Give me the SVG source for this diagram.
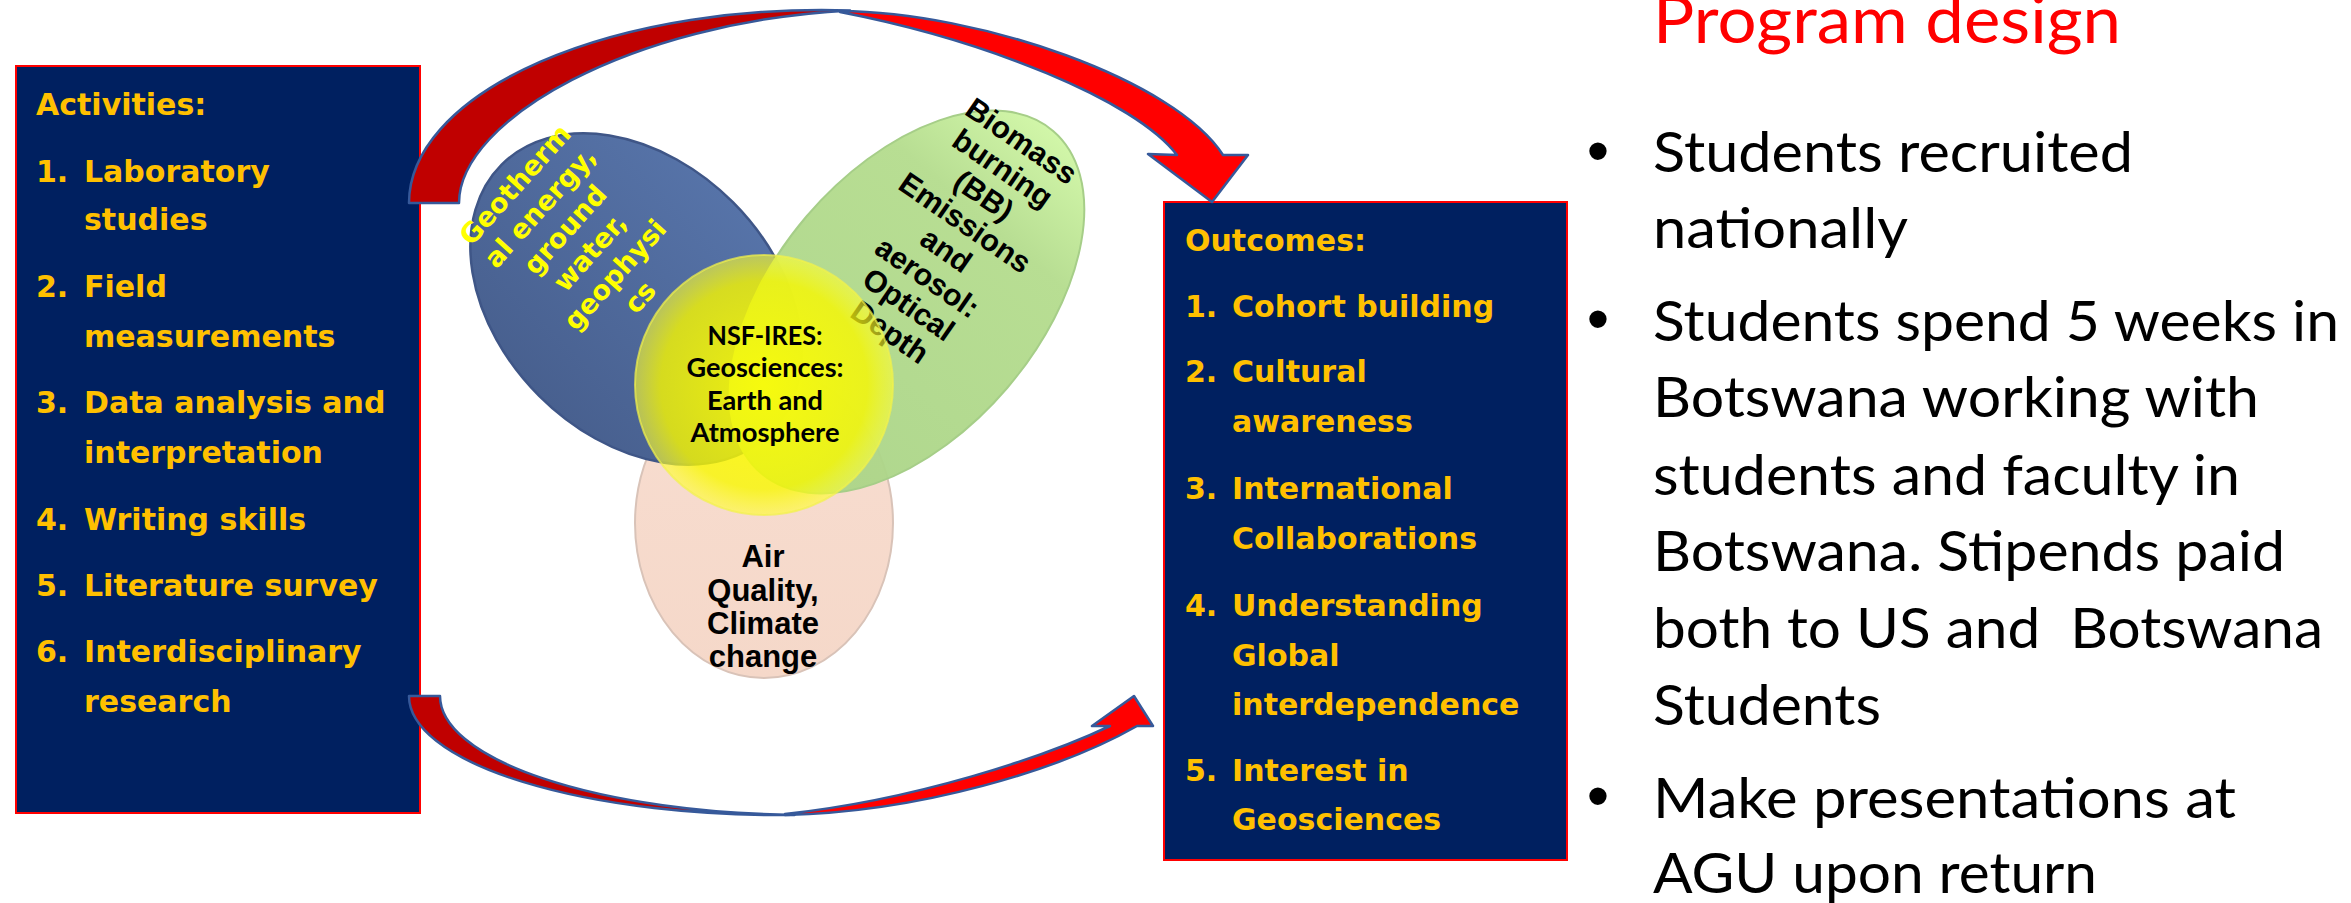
<svg xmlns="http://www.w3.org/2000/svg" width="2351" height="903" viewBox="0 0 2351 903">
  <defs>
    <style>
      .box{fill:#002060;stroke:#FF0000;stroke-width:2}
      .bt{font-family:"DejaVu Sans",Verdana,sans-serif;font-weight:bold;font-size:30px;fill:#FFC000}
      .arr-back{fill:#C00000;stroke:#36599A;stroke-width:2.5;stroke-linejoin:round}
      .arr-front{fill:#FF0000;stroke:#36599A;stroke-width:2.5;stroke-linejoin:round}
      .geo{font-family:"DejaVu Sans",Verdana,sans-serif;font-weight:bold;font-size:27px;fill:#FFFF00;text-anchor:middle}
      .bb{font-family:"Liberation Sans",Arial,sans-serif;font-weight:bold;font-size:30.5px;fill:#000;text-anchor:middle}
      .air{font-family:"Liberation Sans",Arial,sans-serif;font-weight:bold;font-size:31px;fill:#000;text-anchor:middle}
      .nsf{font-family:Lato,"Liberation Sans",sans-serif;font-weight:bold;font-size:27px;fill:#000;text-anchor:middle}
      .title{font-family:Lato,"Liberation Sans",sans-serif;font-size:65px;fill:#FF0000}
      .rt{font-family:Lato,"Liberation Sans",sans-serif;font-size:57px;fill:#000}
      .bul{font-family:"Liberation Sans",Arial,sans-serif;font-size:64px;fill:#000;text-anchor:middle}
    </style>
    <linearGradient id="blueFill" x1="0" y1="0" x2="0" y2="1">
      <stop offset="0" stop-color="#5673A8"/>
      <stop offset="1" stop-color="#48608F"/>
    </linearGradient>
    <linearGradient id="greenFill" x1="0" y1="0" x2="1" y2="0">
      <stop offset="0" stop-color="#AAD487"/>
      <stop offset="0.75" stop-color="#B4DC8D"/>
      <stop offset="1" stop-color="#CFF6A4"/>
    </linearGradient>
    <linearGradient id="peachFill" x1="0" y1="0" x2="0" y2="1">
      <stop offset="0" stop-color="#F8DDD0"/>
      <stop offset="1" stop-color="#F5D8C9"/>
    </linearGradient>
    <radialGradient id="yellowFill" cx="0.5" cy="0.5" r="0.5">
      <stop offset="0" stop-color="#FFFF00" stop-opacity="0.9"/>
      <stop offset="0.8" stop-color="#F8F800" stop-opacity="0.8"/>
      <stop offset="1" stop-color="#FFFF30" stop-opacity="0.6"/>
    </radialGradient>
  </defs>

  <rect width="2351" height="903" fill="#FFFFFF"/>

  <!-- Activities box -->
  <g id="activities">
    <rect class="box" x="16" y="66" width="404" height="747"/>
    <text class="bt" x="36" y="115">Activities:</text>
    <text class="bt" x="36" y="182">1.</text><text class="bt" x="84" y="182">Laboratory</text>
    <text class="bt" x="84" y="230">studies</text>
    <text class="bt" x="36" y="297">2.</text><text class="bt" x="84" y="297">Field</text>
    <text class="bt" x="84" y="347">measurements</text>
    <text class="bt" x="36" y="413">3.</text><text class="bt" x="84" y="413">Data analysis and</text>
    <text class="bt" x="84" y="463">interpretation</text>
    <text class="bt" x="36" y="530">4.</text><text class="bt" x="84" y="530">Writing skills</text>
    <text class="bt" x="36" y="596">5.</text><text class="bt" x="84" y="596">Literature survey</text>
    <text class="bt" x="36" y="662">6.</text><text class="bt" x="84" y="662">Interdisciplinary</text>
    <text class="bt" x="84" y="712">research</text>
  </g>

  <!-- Outcomes box -->
  <g id="outcomes">
    <rect class="box" x="1164" y="202" width="403" height="658"/>
    <text class="bt" x="1185" y="251">Outcomes:</text>
    <text class="bt" x="1185" y="317">1.</text><text class="bt" x="1232" y="317">Cohort building</text>
    <text class="bt" x="1185" y="382">2.</text><text class="bt" x="1232" y="382">Cultural</text>
    <text class="bt" x="1232" y="432">awareness</text>
    <text class="bt" x="1185" y="499">3.</text><text class="bt" x="1232" y="499">International</text>
    <text class="bt" x="1232" y="549">Collaborations</text>
    <text class="bt" x="1185" y="616">4.</text><text class="bt" x="1232" y="616">Understanding</text>
    <text class="bt" x="1232" y="666">Global</text>
    <text class="bt" x="1232" y="715">interdependence</text>
    <text class="bt" x="1185" y="781">5.</text><text class="bt" x="1232" y="781">Interest in</text>
    <text class="bt" x="1232" y="830">Geosciences</text>
  </g>

  <!-- Curved arrows from activities to outcomes -->
  <g id="connectors">
    <g id="arrow-top">
      <path class="arr-back" d="M409,203 A413,193 0 0 1 850,10.4 C630,22 459,120 459,203 Z"/>
      <path class="arr-front" d="M840,11 C980,12 1175,80 1223,155 L1248,155 L1212,202 L1148,154 L1177,155 C1135,100 985,40 840,12 Z"/>
    </g>
    <g id="arrow-bottom">
      <path class="arr-back" d="M409,696 A370,119 0 0 0 794.5,814.9 A370,119 0 0 1 440,696 Z"/>
      <path class="arr-front" d="M785,815 C920,812 1060,770 1137,726 L1153,726 L1134,696 L1092,726 L1110,726 C1045,757 915,800 785,814 Z"/>
    </g>
  </g>

  <!-- Venn of research themes -->
  <g id="theme-air">
    <ellipse cx="764" cy="523" rx="129" ry="155" fill="url(#peachFill)" stroke="#D9C3B8" stroke-width="2"/>
  </g>
  <g id="theme-geo">
    <ellipse cx="636" cy="299" rx="190" ry="137" transform="rotate(45 636 299)" fill="url(#blueFill)" stroke="#3F5687" stroke-width="2.5"/>
    <g transform="translate(577,240.5) rotate(-48)">
      <text class="geo" x="0" y="-74">Geotherm</text>
      <text class="geo" x="0" y="-40.4">al energy,</text>
      <text class="geo" x="0" y="-6.8">ground</text>
      <text class="geo" x="0" y="26.8">water,</text>
      <text class="geo" x="0" y="60.4">geophysi</text>
      <text class="geo" x="0" y="94">cs</text>
    </g>
  </g>
  <g id="theme-bb">
    <ellipse cx="907" cy="302" rx="225" ry="132" transform="rotate(-49.5 907 302)" fill="url(#greenFill)" fill-opacity="0.95" stroke="#A6CE88" stroke-width="2"/>
    <g transform="translate(956,236) rotate(34.6)">
      <text class="bb" x="0" y="-104.9">Biomass</text>
      <text class="bb" x="0" y="-71.8">burning</text>
      <text class="bb" x="0" y="-38.7">(BB)</text>
      <text class="bb" x="0" y="-5.6">Emissions</text>
      <text class="bb" x="0" y="27.6">and</text>
      <text class="bb" x="0" y="60.7">aerosol:</text>
      <text class="bb" x="0" y="93.8">Optical</text>
      <text class="bb" x="0" y="126.9">Depth</text>
    </g>
  </g>
  <g id="theme-air-label">
    <text class="air" x="763" y="567">Air</text>
    <text class="air" x="763" y="601">Quality,</text>
    <text class="air" x="763" y="634">Climate</text>
    <text class="air" x="763" y="667">change</text>
  </g>
  <g id="theme-core">
    <ellipse cx="764" cy="385" rx="129" ry="130" fill="url(#yellowFill)" stroke="#F2F24A" stroke-opacity="0.7" stroke-width="2"/>
    <text class="nsf" x="765" y="345" textLength="115" lengthAdjust="spacingAndGlyphs">NSF-IRES:</text>
    <text class="nsf" x="765" y="377" textLength="157" lengthAdjust="spacingAndGlyphs">Geosciences:</text>
    <text class="nsf" x="765" y="410" textLength="116" lengthAdjust="spacingAndGlyphs">Earth and</text>
    <text class="nsf" x="765" y="442" textLength="149" lengthAdjust="spacingAndGlyphs">Atmosphere</text>
  </g>

  <!-- Program design text -->
  <g id="program-design">
    <text class="title" x="1653" y="43" textLength="468" lengthAdjust="spacingAndGlyphs">Program design</text>
    <text class="bul" x="1598" y="173">•</text>
    <text class="rt" x="1653" y="172" textLength="480" lengthAdjust="spacingAndGlyphs">Students recruited</text>
    <text class="rt" x="1653" y="248" textLength="255" lengthAdjust="spacingAndGlyphs">nationally</text>
    <text class="bul" x="1598" y="341">•</text>
    <text class="rt" x="1653" y="341" textLength="686" lengthAdjust="spacingAndGlyphs">Students spend 5 weeks in</text>
    <text class="rt" x="1653" y="417" textLength="606" lengthAdjust="spacingAndGlyphs">Botswana working with</text>
    <text class="rt" x="1653" y="495" textLength="587" lengthAdjust="spacingAndGlyphs">students and faculty in</text>
    <text class="rt" x="1653" y="571" textLength="632" lengthAdjust="spacingAndGlyphs">Botswana. Stipends paid</text>
    <text class="rt" x="1653" y="648" textLength="670" lengthAdjust="spacingAndGlyphs" xml:space="preserve">both to US and  Botswana</text>
    <text class="rt" x="1653" y="725" textLength="228" lengthAdjust="spacingAndGlyphs">Students</text>
    <text class="bul" x="1598" y="818">•</text>
    <text class="rt" x="1653" y="818" textLength="583" lengthAdjust="spacingAndGlyphs">Make presentations at</text>
    <text class="rt" x="1653" y="893" textLength="444" lengthAdjust="spacingAndGlyphs">AGU upon return</text>
  </g>
</svg>
